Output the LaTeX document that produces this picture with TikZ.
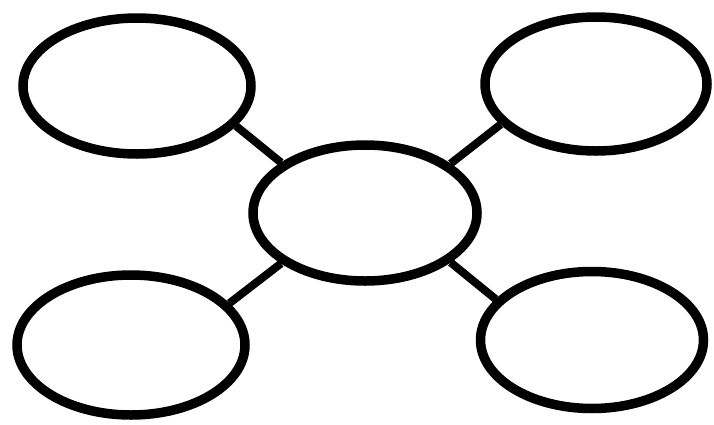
\documentclass[tikz,border=0pt]{standalone}
\usetikzlibrary{shapes.geometric}
\begin{document}
\begin{tikzpicture}[x=1pt,y=-1pt,
  bubble/.style={ellipse,draw=black,line width=9.5pt,inner sep=0pt,fill=white},
  link/.style={draw=black,line width=8pt}]
\fill[white] (0,0) rectangle (714,424);
\useasboundingbox (0,0) rectangle (714,424);
\node[bubble,minimum width=228pt,minimum height=136pt] (tl) at (137,86) {};
\node[bubble,minimum width=222pt,minimum height=134pt] (tr) at (596,84) {};
\node[bubble,minimum width=224pt,minimum height=136pt] (c) at (365,213) {};
\node[bubble,minimum width=228pt,minimum height=140pt] (bl) at (131,345) {};
\node[bubble,minimum width=223pt,minimum height=137pt] (br) at (592,340) {};
\draw[link] (tl.-22) -- (c.149);
\draw[link] (tr.-157) -- (c.30);
\draw[link] (bl.23) -- (c.211);
\draw[link] (br.157) -- (c.-30);
\end{tikzpicture}
\end{document}
